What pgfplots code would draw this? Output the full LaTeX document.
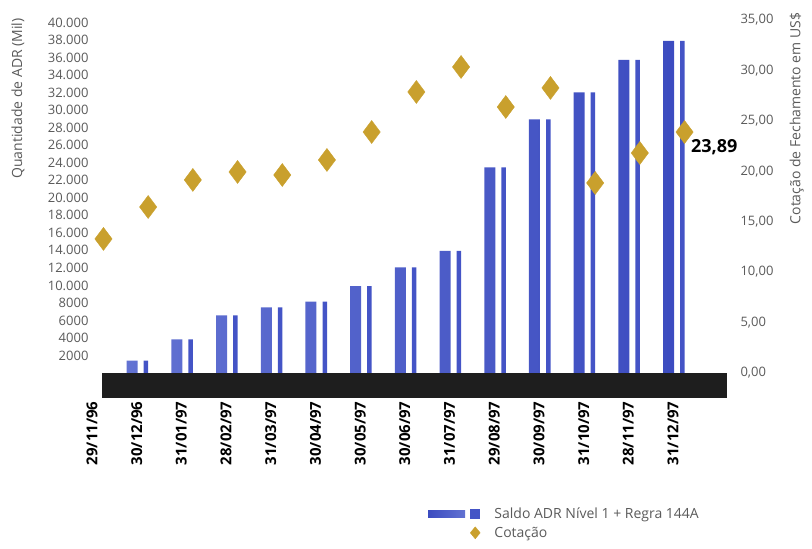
\documentclass[border=0pt]{standalone}
\usepackage{pgfplots}
\pgfplotsset{compat=1.18}
\usepackage{pgfplotstable}
\usepackage{fontspec}
\setmainfont{Open Sans}

\definecolor{barL}{RGB}{98,114,210}
\definecolor{barM}{RGB}{160,174,240}
\definecolor{barR}{RGB}{60,76,192}
\definecolor{barThin}{RGB}{68,84,198}
\definecolor{gold}{RGB}{201,160,45}
\definecolor{labgray}{RGB}{90,90,90}
\definecolor{band}{RGB}{30,30,30}

% ADR balance (thousands of ADRs) per month-end
\pgfplotstableread{
idx adr
1  1400
2  3850
3  6590
4  7500
5  8140
6  9930
7  12070
8  13930
9  23480
10 28960
11 32040
12 35730
13 37900
}\adrdata

% closing price in US$
\pgfplotstableread{
idx cot
0  13.29
1  16.46
2  19.14
3  19.93
4  19.63
5  21.12
6  23.89
7  27.86
8  30.34
9  26.37
10 28.26
11 18.84
12 21.81
13 23.89
}\cotdata

\pgfplotsset{
  common/.style={
    scale only axis, width=649.5pt, height=384pt,
    axis line style={draw=none}, tick style={draw=none},
    major tick length=0pt, clip=false,
  },
  barleg/.style={legend image code/.code={
    \path (0pt,0pt) (64pt,0pt);
    \shade[draw=none, left color=barR, right color=barL] (0pt,-3.5pt) rectangle (37pt,3.5pt);
    \fill[draw=none, barThin] (42pt,-5pt) rectangle (52pt,5pt);}},
  cotleg/.style={legend image code/.code={
    \path (0pt,0pt) (64pt,0pt);
    \draw[only marks, mark=diamond*, mark size=6pt,
      mark options={xscale=1.1, fill=gold, draw=gold}] plot coordinates {(47pt,0pt)};}},
}

\begin{document}
\begin{tikzpicture}
% left axis: ADR bars
\begin{axis}[common,
  xmin=-0.1, xmax=14.43,
  ymin=-2854, ymax=40980,
  scaled y ticks=false,
  xtick={0,...,13},
  xticklabels={29/11/96,30/12/96,31/01/97,28/02/97,31/03/97,30/04/97,30/05/97,30/06/97,31/07/97,29/08/97,30/09/97,31/10/97,28/11/97,31/12/97},
  xticklabel style={rotate=90, anchor=east, font=\bfseries\fontsize{15}{16}\selectfont},
  ytick={2000,4000,...,40000},
  yticklabels={2000,4000,6000,8000,10.000,12.000,14.000,16.000,18.000,20.000,22.000,24.000,26.000,28.000,30.000,32.000,34.000,36.000,38.000,40.000},
  yticklabel style={text=labgray, font=\fontsize{13}{14}\selectfont, xshift=4.5pt},
]
\fill[band] (axis cs:0.224,-2854) rectangle (axis cs:14.2,0);
\addplot[ybar, bar width=11pt, bar shift=-4.5pt, draw=none,
  left color=barL, middle color=barM, right color=barR]
  table[x=idx, y=adr] {\adrdata};
\addplot[ybar, bar width=4.5pt, bar shift=9.3pt, draw=none, fill=barThin]
  table[x=idx, y=adr] {\adrdata};
\node[rotate=90, text=labgray, font=\fontsize{14}{16}\selectfont]
  at (rel axis cs:-0.107,0.78) {Quantidade de ADR (Mil)};
\end{axis}

% right axis: closing price
\begin{axis}[common,
  xmin=-0.357, xmax=14.173,
  ymin=-2.479, ymax=35.59,
  xtick=\empty,
  yticklabel pos=right,
  ytick={0,5,...,35},
  yticklabels={{0,00},{5,00},{10,00},{15,00},{20,00},{25,00},{30,00},{35,00}},
  yticklabel style={text=labgray, font=\fontsize{13}{14}\selectfont},
  legend style={at={(rel axis cs:0.524,-0.28)}, anchor=north west,
    draw=none, fill=none, text=labgray, font=\fontsize{14}{16}\selectfont,
    row sep=3pt, inner sep=0pt},
  legend cell align=left,
]
\addlegendimage{barleg}
\addlegendentry{Saldo ADR Nível 1 + Regra 144A}
\addplot[only marks, mark=diamond*, mark size=11.5pt,
  mark options={fill=gold, draw=gold}, cotleg]
  table[x=idx, y=cot] {\cotdata};
\addlegendentry{Cotação}
\node[anchor=west, font=\bfseries\fontsize{18}{20}\selectfont, xshift=3pt, yshift=-15pt]
  at (axis cs:13,23.89) {23,89};
\node[rotate=90, text=labgray, font=\fontsize{14}{16}\selectfont]
  at (rel axis cs:1.092,0.728) {Cotação de Fechamento em US\$};
\end{axis}
\path (-87.5pt,-151pt) rectangle (724.5pt,398pt);
\end{tikzpicture}
\end{document}
